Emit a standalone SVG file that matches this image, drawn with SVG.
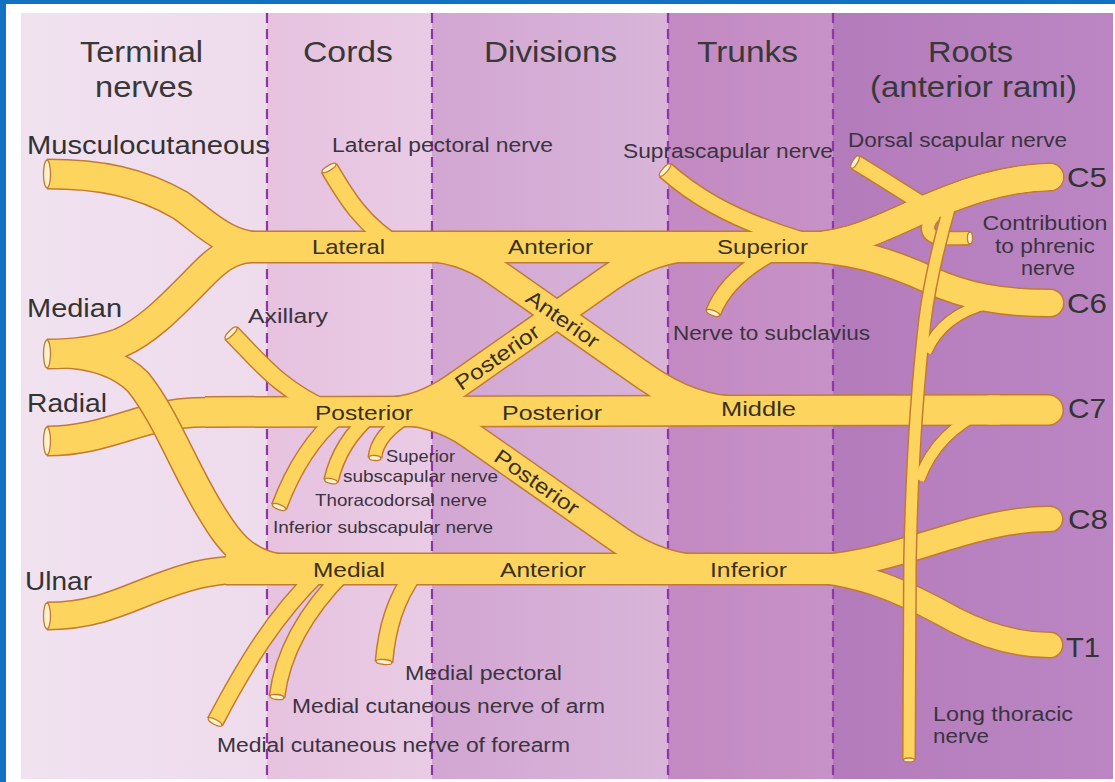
<svg xmlns="http://www.w3.org/2000/svg" xmlns:xlink="http://www.w3.org/1999/xlink" width="1115" height="782" viewBox="0 0 1115 782">
<style>
.o{fill:none;stroke:#c27a33;stroke-linejoin:round;stroke-linecap:butt}
.f{fill:none;stroke:#fdd55e;stroke-linejoin:round;stroke-linecap:butt}
.r{stroke-linecap:round}
.cut{fill:#fff2cc;stroke:#c27a33;stroke-width:1.3}
.dash{stroke:#8e36a6;stroke-width:2.2;stroke-dasharray:10 6;fill:none}
text{font-family:"Liberation Sans",Arial,Helvetica,sans-serif}
.h{font-size:30px;fill:#383838}
.L{font-size:26px;fill:#333}
.c{font-size:28px;fill:#333}
.s{font-size:20px;fill:#3b3340}
.ss{font-size:16.5px;fill:#3b3340}
.b{font-size:21px;fill:#3a3020}
</style>
<defs>
<linearGradient id="gT"><stop offset="0" stop-color="#f1e2f0"/><stop offset="1" stop-color="#eedbec"/></linearGradient>
<linearGradient id="gC"><stop offset="0" stop-color="#e6c2df"/><stop offset="1" stop-color="#e9cbe5"/></linearGradient>
<linearGradient id="gD"><stop offset="0" stop-color="#d2a6d2"/><stop offset="1" stop-color="#d8b5d9"/></linearGradient>
<linearGradient id="gTr"><stop offset="0" stop-color="#c389c2"/><stop offset="1" stop-color="#c792c7"/></linearGradient>
<linearGradient id="gR"><stop offset="0" stop-color="#b47bbb"/><stop offset="1" stop-color="#bb86c3"/></linearGradient>
<path id="musc" d="M 47 174 C 100 174 140 182 180 205 C 205 222 225 247 265 247"/>
<path id="latroot" d="M 265 247 C 235 247 222 255 205 272 C 175 302 150 330 120 343 C 95 352 70 354 47 354"/>
<path id="medroot" d="M 60 354 C 90 355 118 362 138 382 C 165 415 185 470 210 510 C 228 540 245 566 290 569"/>
<path id="ulnar" d="M 47 616 C 100 616 130 597 165 585 C 195 574 215 569 265 569"/>
<path id="radial" d="M 47 441 C 95 441 125 424 165 416 C 185 412 200 412 230 412"/>
<path id="latband" d="M 228 247 L 850 247"/>
<path id="postband" d="M 205 412 L 1000 410"/>
<path id="c7" d="M 990 410 L 1048 410"/>
<path id="medband" d="M 226 569 L 848 569"/>
<path id="c5" d="M 790 247 C 850 247 880 228 920 211 C 960 194 1000 178 1050 177"/>
<path id="c6" d="M 790 248 C 850 248 890 262 930 280 C 965 296 1000 303 1050 303"/>
<path id="c8" d="M 790 569 C 860 569 910 548 960 534 C 995 524 1020 519 1050 519"/>
<path id="t1" d="M 790 569 C 860 569 910 595 955 620 C 990 638 1020 645 1050 645"/>
<path id="antdiag" d="M 400 247 L 415 247 Q 460 247 495 271.6 L 645 376.6 Q 693 410 740 410"/>
<path id="postdiag1" d="M 370 411 L 385 411 Q 420 411 455 386.4 L 610 277.9 Q 654 247 700 247"/>
<path id="postdiag2" d="M 370 411 L 390 411 Q 435.6 411 470 435.1 L 620 540.1 Q 661.3 569 710 569"/>
<path id="latpec" d="M 329 168 C 345 195 362 225 400 247"/>
<path id="supra" d="M 665 170 C 690 192 725 217 800 240"/>
<path id="subcl" d="M 713 313 C 722 290 740 270 775 252"/>
<path id="axil" d="M 231 333 C 258 360 280 390 330 411"/>
<path id="supsub" d="M 375 458 C 376 443 388 428 410 415"/>
<path id="thor" d="M 331 481 C 336 459 348 435 372 415"/>
<path id="infsub" d="M 279 507 C 291 475 310 440 340 415"/>
<path id="mcf" d="M 215 722 C 245 665 275 615 320 572"/>
<path id="mca" d="M 277 697 C 282 655 305 612 345 572"/>
<path id="mp" d="M 384 662 C 387 628 395 600 415 572"/>
<path id="dors" d="M 855 162 C 877 175 898 189 924 205"/>
<path id="phren" d="M 945 208 C 928 217 922 232 935 237 C 945 239 955 238 970 238"/>
<path id="lt" d="M 950 205 C 940 240 930 280 925 320 C 918 380 912 460 910 560 L 909 760"/>
<path id="lt6" d="M 990 303 C 960 310 938 325 926 352"/>
<path id="lt7" d="M 985 410 C 955 425 932 445 919 480"/>
</defs>

<g id="background">
<rect x="0" y="0" width="1115" height="782" fill="#1271c1"/>
<rect x="6" y="4" width="1109" height="778" fill="#ffffff"/>
<rect x="21" y="13" width="246" height="766" fill="url(#gT)"/>
<rect x="267" y="13" width="165" height="766" fill="url(#gC)"/>
<rect x="432" y="13" width="236" height="766" fill="url(#gD)"/>
<rect x="668" y="13" width="165" height="766" fill="url(#gTr)"/>
<rect x="833" y="13" width="280" height="766" fill="url(#gR)"/>
</g>

<g id="dividers">
<line class="dash" x1="267" y1="13" x2="267" y2="779"/>
<line class="dash" x1="432" y1="13" x2="432" y2="779"/>
<line class="dash" x1="668" y1="13" x2="668" y2="779"/>
<line class="dash" x1="833" y1="13" x2="833" y2="779"/>
</g>

<g id="connectors">
<g id="radial-nerve">
<use xlink:href="#radial" class="o" stroke-width="31"/>
<use xlink:href="#radial" class="f" stroke-width="28"/>
</g>
<g id="outlines" class="o">
<use xlink:href="#musc" stroke-width="31"/>
<use xlink:href="#latroot" stroke-width="31"/>
<use xlink:href="#medroot" stroke-width="29"/>
<use xlink:href="#ulnar" stroke-width="29"/>
<use xlink:href="#latband" stroke-width="33"/>
<use xlink:href="#postband" stroke-width="32"/>
<use xlink:href="#c7" stroke-width="32" class="r"/>
<use xlink:href="#medband" stroke-width="33"/>
<use xlink:href="#c5" stroke-width="29" class="r"/>
<use xlink:href="#c6" stroke-width="29" class="r"/>
<use xlink:href="#c8" stroke-width="27" class="r"/>
<use xlink:href="#t1" stroke-width="27" class="r"/>
<use xlink:href="#antdiag" stroke-width="29"/>
<use xlink:href="#postdiag1" stroke-width="29"/>
<use xlink:href="#postdiag2" stroke-width="29"/>
<use xlink:href="#latpec" stroke-width="19"/>
<use xlink:href="#supra" stroke-width="19"/>
<use xlink:href="#subcl" stroke-width="17"/>
<use xlink:href="#axil" stroke-width="19"/>
<use xlink:href="#supsub" stroke-width="15"/>
<use xlink:href="#thor" stroke-width="16"/>
<use xlink:href="#infsub" stroke-width="17"/>
<use xlink:href="#mcf" stroke-width="18"/>
<use xlink:href="#mca" stroke-width="17"/>
<use xlink:href="#mp" stroke-width="19"/>
<use xlink:href="#dors" stroke-width="17"/>
<use xlink:href="#phren" stroke-width="15"/>
<use xlink:href="#lt6" stroke-width="13"/>
<use xlink:href="#lt7" stroke-width="13"/>
</g>
<g id="fills" class="f">
<use xlink:href="#musc" stroke-width="28"/>
<use xlink:href="#latroot" stroke-width="28"/>
<use xlink:href="#medroot" stroke-width="26"/>
<use xlink:href="#ulnar" stroke-width="26"/>
<use xlink:href="#latband" stroke-width="30"/>
<use xlink:href="#postband" stroke-width="29"/>
<use xlink:href="#c7" stroke-width="29" class="r"/>
<use xlink:href="#medband" stroke-width="30"/>
<use xlink:href="#c5" stroke-width="26" class="r"/>
<use xlink:href="#c6" stroke-width="26" class="r"/>
<use xlink:href="#c8" stroke-width="24" class="r"/>
<use xlink:href="#t1" stroke-width="24" class="r"/>
<use xlink:href="#antdiag" stroke-width="26"/>
<use xlink:href="#postdiag1" stroke-width="26"/>
<use xlink:href="#postdiag2" stroke-width="26"/>
<use xlink:href="#latpec" stroke-width="16"/>
<use xlink:href="#supra" stroke-width="16"/>
<use xlink:href="#subcl" stroke-width="14"/>
<use xlink:href="#axil" stroke-width="16"/>
<use xlink:href="#supsub" stroke-width="12"/>
<use xlink:href="#thor" stroke-width="13"/>
<use xlink:href="#infsub" stroke-width="14"/>
<use xlink:href="#mcf" stroke-width="15"/>
<use xlink:href="#mca" stroke-width="14"/>
<use xlink:href="#mp" stroke-width="16"/>
<use xlink:href="#dors" stroke-width="14"/>
<use xlink:href="#phren" stroke-width="12"/>
<use xlink:href="#lt6" stroke-width="10"/>
<use xlink:href="#lt7" stroke-width="10"/>
</g>
<g id="long-thoracic">
<use xlink:href="#lt" class="o" stroke-width="14"/>
<use xlink:href="#lt" class="f" stroke-width="11"/>
<use xlink:href="#c5" class="f r" stroke-width="26"/>
<use xlink:href="#lt6" class="f" stroke-width="10"/>
<use xlink:href="#lt7" class="f" stroke-width="10"/>
</g>
<g id="cut-ends">
<ellipse class="cut" cx="47" cy="174" rx="3.5" ry="14"/>
<ellipse class="cut" cx="47" cy="354" rx="3.5" ry="14"/>
<ellipse class="cut" cx="47" cy="441" rx="3.5" ry="14"/>
<ellipse class="cut" cx="47" cy="616" rx="3.5" ry="13"/>
<ellipse class="cut" cx="329" cy="168" rx="2.5" ry="8" transform="rotate(59.3 329 168)"/>
<ellipse class="cut" cx="665" cy="170" rx="2.5" ry="8" transform="rotate(41.3 665 170)"/>
<ellipse class="cut" cx="713" cy="313" rx="2.5" ry="7" transform="rotate(-68.6 713 313)"/>
<ellipse class="cut" cx="231" cy="333" rx="2.5" ry="8" transform="rotate(45 231 333)"/>
<ellipse class="cut" cx="375" cy="458" rx="2.5" ry="6" transform="rotate(-86 375 458)"/>
<ellipse class="cut" cx="331" cy="481" rx="2.5" ry="6.5" transform="rotate(-77 331 481)"/>
<ellipse class="cut" cx="279" cy="507" rx="2.5" ry="7" transform="rotate(-69.4 279 507)"/>
<ellipse class="cut" cx="215" cy="722" rx="2.5" ry="7.5" transform="rotate(-62.2 215 722)"/>
<ellipse class="cut" cx="277" cy="697" rx="2.5" ry="7" transform="rotate(-83 277 697)"/>
<ellipse class="cut" cx="384" cy="662" rx="2.5" ry="8" transform="rotate(-85 384 662)"/>
<ellipse class="cut" cx="855" cy="162" rx="2.5" ry="7" transform="rotate(31 855 162)"/>
<ellipse class="cut" cx="970" cy="238" rx="2.5" ry="6"/>
<ellipse class="cut" cx="909" cy="760" rx="2" ry="5.5" transform="rotate(90 909 760)"/>
</g>
</g>

<g id="headers">
<text class="h" x="80" y="62" textLength="123" lengthAdjust="spacingAndGlyphs">Terminal</text>
<text class="h" x="95" y="97" textLength="98" lengthAdjust="spacingAndGlyphs">nerves</text>
<text class="h" x="303" y="62" textLength="90" lengthAdjust="spacingAndGlyphs">Cords</text>
<text class="h" x="484" y="62" textLength="133" lengthAdjust="spacingAndGlyphs">Divisions</text>
<text class="h" x="697" y="62" textLength="101" lengthAdjust="spacingAndGlyphs">Trunks</text>
<text class="h" x="928" y="62" textLength="85" lengthAdjust="spacingAndGlyphs">Roots</text>
<text class="h" x="870" y="97" textLength="207" lengthAdjust="spacingAndGlyphs">(anterior rami)</text>
</g>

<g id="terminal-labels">
<text class="L" x="27" y="154" textLength="243" lengthAdjust="spacingAndGlyphs">Musculocutaneous</text>
<text class="L" x="27" y="317" textLength="95" lengthAdjust="spacingAndGlyphs">Median</text>
<text class="L" x="27" y="412" textLength="80" lengthAdjust="spacingAndGlyphs">Radial</text>
<text class="L" x="25" y="590" textLength="67" lengthAdjust="spacingAndGlyphs">Ulnar</text>
</g>

<g id="root-labels">
<text class="c" x="1067" y="187" textLength="40" lengthAdjust="spacingAndGlyphs">C5</text>
<text class="c" x="1067" y="313" textLength="40" lengthAdjust="spacingAndGlyphs">C6</text>
<text class="c" x="1068" y="418" textLength="38" lengthAdjust="spacingAndGlyphs">C7</text>
<text class="c" x="1068" y="529" textLength="40" lengthAdjust="spacingAndGlyphs">C8</text>
<text class="c" x="1066" y="657" textLength="34" lengthAdjust="spacingAndGlyphs">T1</text>
</g>

<g id="branch-labels">
<text class="s" x="332" y="152" textLength="221" lengthAdjust="spacingAndGlyphs">Lateral pectoral nerve</text>
<text class="s" x="623" y="158" textLength="210" lengthAdjust="spacingAndGlyphs">Suprascapular nerve</text>
<text class="s" x="848" y="147" textLength="219" lengthAdjust="spacingAndGlyphs">Dorsal scapular nerve</text>
<text class="s" x="1045" y="230" text-anchor="middle" textLength="125" lengthAdjust="spacingAndGlyphs">Contribution</text>
<text class="s" x="1045" y="253" text-anchor="middle" textLength="100" lengthAdjust="spacingAndGlyphs">to phrenic</text>
<text class="s" x="1048" y="275" text-anchor="middle" textLength="54" lengthAdjust="spacingAndGlyphs">nerve</text>
<text class="s" x="248" y="323" textLength="80" lengthAdjust="spacingAndGlyphs">Axillary</text>
<text class="s" x="673" y="340" textLength="197" lengthAdjust="spacingAndGlyphs">Nerve to subclavius</text>
<text class="ss" x="386" y="462" textLength="69" lengthAdjust="spacingAndGlyphs">Superior</text>
<text class="ss" x="343" y="482" textLength="155" lengthAdjust="spacingAndGlyphs">subscapular nerve</text>
<text class="ss" x="315" y="506" textLength="172" lengthAdjust="spacingAndGlyphs">Thoracodorsal nerve</text>
<text class="ss" x="273" y="533" textLength="220" lengthAdjust="spacingAndGlyphs">Inferior subscapular nerve</text>
<text class="s" x="405" y="680" textLength="157" lengthAdjust="spacingAndGlyphs">Medial pectoral</text>
<text class="s" x="292" y="713" textLength="313" lengthAdjust="spacingAndGlyphs">Medial cutaneous nerve of arm</text>
<text class="s" x="217" y="752" textLength="353" lengthAdjust="spacingAndGlyphs">Medial cutaneous nerve of forearm</text>
<text class="s" x="933" y="721" textLength="140" lengthAdjust="spacingAndGlyphs">Long thoracic</text>
<text class="s" x="933" y="743" textLength="56" lengthAdjust="spacingAndGlyphs">nerve</text>
</g>

<g id="band-labels">
<text class="b" x="312" y="254" textLength="73" lengthAdjust="spacingAndGlyphs">Lateral</text>
<text class="b" x="508" y="254" textLength="85" lengthAdjust="spacingAndGlyphs">Anterior</text>
<text class="b" x="717" y="254" textLength="91" lengthAdjust="spacingAndGlyphs">Superior</text>
<text class="b" x="315" y="420" textLength="98" lengthAdjust="spacingAndGlyphs">Posterior</text>
<text class="b" x="502" y="420" textLength="100" lengthAdjust="spacingAndGlyphs">Posterior</text>
<text class="b" x="721" y="416" textLength="75" lengthAdjust="spacingAndGlyphs">Middle</text>
<text class="b" x="313" y="577" textLength="72" lengthAdjust="spacingAndGlyphs">Medial</text>
<text class="b" x="500" y="577" textLength="86" lengthAdjust="spacingAndGlyphs">Anterior</text>
<text class="b" x="710" y="577" textLength="77" lengthAdjust="spacingAndGlyphs">Inferior</text>
<text class="b" x="563" y="326.5" text-anchor="middle" transform="rotate(35 563 319)" textLength="84" lengthAdjust="spacingAndGlyphs">Anterior</text>
<text class="b" x="497" y="364.5" text-anchor="middle" transform="rotate(-35 497 357)" textLength="98" lengthAdjust="spacingAndGlyphs">Posterior</text>
<text class="b" x="537" y="489.5" text-anchor="middle" transform="rotate(35 537 482)" textLength="98" lengthAdjust="spacingAndGlyphs">Posterior</text>
</g>
</svg>
